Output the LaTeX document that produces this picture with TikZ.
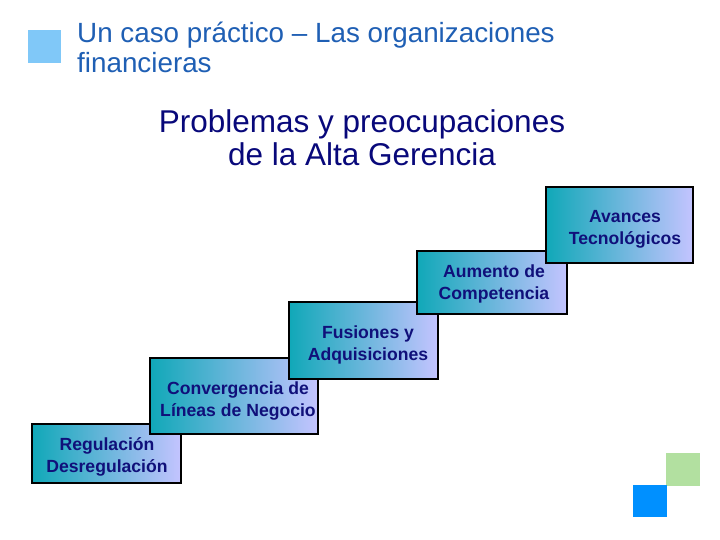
\documentclass[tikz,border=0pt]{standalone}
\usepackage{fontspec}
\setmainfont{Liberation Sans}
\definecolor{titleblue}{HTML}{1F5FB4}
\definecolor{subnavy}{HTML}{08087A}
\definecolor{sqblue}{HTML}{80C8F8}
\definecolor{sqgreen}{HTML}{B2E0A0}
\definecolor{sqdeep}{HTML}{0090FF}
\definecolor{tealL}{HTML}{10A8B8}
\definecolor{lavR}{HTML}{C4C4FF}
\definecolor{navy}{HTML}{10107A}
\begin{document}
\begin{tikzpicture}[x=1pt,y=-1pt,
  stepbox/.style={draw=black,line width=1.8pt,left color=tealL,right color=lavR,
    shading angle=90},
  boxtext/.style={text=navy,font=\fontsize{17.6}{22}\selectfont\bfseries,align=center,inner sep=0pt},
  titletext/.style={anchor=base west,text=titleblue,inner sep=0pt,font=\fontsize{27.8}{31}\selectfont},
  subtext/.style={anchor=base,text=subnavy,inner sep=0pt,font=\fontsize{31.5}{35}\selectfont}]
\useasboundingbox (0,0) rectangle (720,540);
\fill[sqblue] (28,30) rectangle (61,63);
\fill[sqgreen] (666,453) rectangle (700,486);
\fill[sqdeep] (633,485) rectangle (667,517);
\node[titletext] (title1) at (77,43) {Un caso práctico -- Las organizaciones};
\node[titletext] (title2) at (77,73) {financieras};
\node[subtext] (sub1) at (362,133) {Problemas y preocupaciones};
\node[subtext] (sub2) at (362,166) {de la Alta Gerencia};
\shade[stepbox] (32,424) rectangle (181,483);
\node[boxtext] (b1) at (107,457) {Regulación\\Desregulación};
\shade[stepbox] (150,358) rectangle (318,434);
\node[boxtext] (b2) at (238,401) {Convergencia de\\Líneas de Negocio};
\shade[stepbox] (289,302) rectangle (438,379);
\node[boxtext] (b3) at (368,345) {Fusiones y\\Adquisiciones};
\shade[stepbox] (417,251) rectangle (567,314);
\node[boxtext] (b4) at (494,284) {Aumento de\\Competencia};
\shade[stepbox] (546,187) rectangle (693,263);
\node[boxtext] (b5) at (625,229) {Avances\\Tecnológicos};
\end{tikzpicture}
\end{document}
